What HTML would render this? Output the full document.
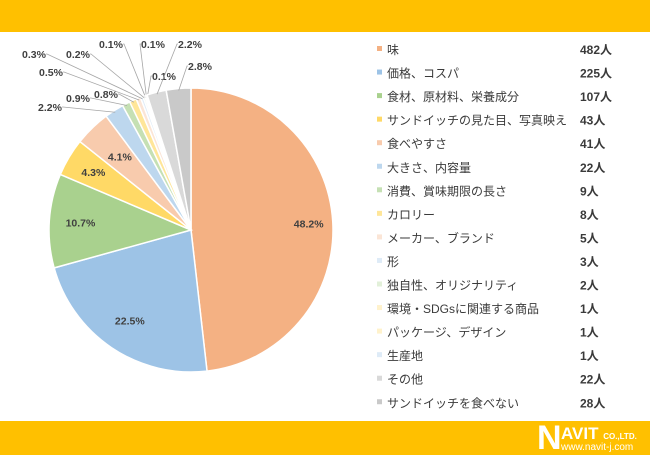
<!DOCTYPE html>
<html><head><meta charset="utf-8"><style>
body{margin:0;width:650px;height:455px;background:#fff;overflow:hidden;font-family:"Liberation Sans","Noto Sans CJK JP",sans-serif;}
#top{position:absolute;left:0;top:0;width:650px;height:32px;background:#ffc000;}
#bot{position:absolute;left:0;top:421px;width:650px;height:34px;background:#ffc000;}
svg{position:absolute;left:0;top:0;}
</style></head><body>
<div id="top"></div>
<div id="bot">
<div style="position:absolute;left:537px;top:0px;color:#fff;">
<span style="font-weight:bold;font-size:34px;line-height:34px;">N</span><span style="position:absolute;left:24px;top:3px;font-weight:bold;font-size:17px;white-space:nowrap;">AVIT <span style="font-size:8px">CO.,LTD.</span></span><span style="position:absolute;left:24px;top:21px;font-size:10px;white-space:nowrap;">www.navit-j.com</span>
</div></div>
<svg id="chart" width="650" height="455"></svg>
<script>
const categories=["味","価格、コスパ","食材、原材料、栄養成分","サンドイッチの見た目、写真映え","食べやすさ","大きさ、内容量","消費、賞味期限の長さ","カロリー","メーカー、ブランド","形","独自性、オリジナリティ","環境・SDGsに関連する商品","パッケージ、デザイン","生産地","その他","サンドイッチを食べない"];
const counts=[482,225,107,43,41,22,9,8,5,3,2,1,1,1,22,28];
const percentLabels=["48.2%","22.5%","10.7%","4.3%","4.1%","2.2%","0.9%","0.8%","0.5%","0.3%","0.2%","0.1%","0.1%","0.1%","2.2%","2.8%"];
const colors=["#f4b183","#9dc3e6","#a9d18e","#ffd966","#f8cbad","#bdd7ee","#c5e0b4","#ffe699","#fbe5d6","#deebf7","#e2f0d9","#fff2cc","#fff2cc","#deebf7","#d9d9d9","#c9c9c9"];
const outPos={5:[50,110],6:[78,101],7:[106,97],8:[51,75],9:[34,57],10:[78,57],11:[111,47],12:[153,47],13:[164,79],14:[190,47],15:[200,69]};
const inR={0:0.83,1:0.77,2:0.78,3:0.8,4:0.72};
const NS="http://www.w3.org/2000/svg";
const svg=document.getElementById('chart');
const cx=191,cy=230,R=142;
const total=counts.reduce((a,b)=>a+b,0);
function pt(a,r){return [cx+r*Math.sin(a),cy-r*Math.cos(a)];}
let a0=0;
counts.forEach((v,i)=>{
  const a1=a0+v/total*2*Math.PI;
  const p0=pt(a0,R),p1=pt(a1,R);
  const large=(a1-a0)>Math.PI?1:0;
  const path=document.createElementNS(NS,'path');
  path.setAttribute('d',`M${cx},${cy}L${p0[0]},${p0[1]}A${R},${R} 0 ${large} 1 ${p1[0]},${p1[1]}Z`);
  path.setAttribute('fill',colors[i]);path.setAttribute('stroke','#fff');path.setAttribute('stroke-width','1.5');
  
  
  svg.appendChild(path);
  const mid=(a0+a1)/2;
  const t=document.createElementNS(NS,'text');
  t.setAttribute('font-size','10.5');t.setAttribute('font-weight','bold');t.setAttribute('fill','#404040');
  t.setAttribute('text-anchor','middle');
  if(outPos[i]){
    const [lx,ly]=outPos[i];
    const e=pt(mid,R-2);
    const ln=document.createElementNS(NS,'polyline');
    const sx=lx+(lx<e[0]?13:-13);
    ln.setAttribute('points',`${e[0]},${e[1]} ${sx},${ly-3} ${lx+(lx<e[0]?12:-12)},${ly-3}`);
    ln.setAttribute('fill','none');ln.setAttribute('stroke','#a6a6a6');ln.setAttribute('stroke-width','0.8');
    
    
    svg.appendChild(ln);
    t.setAttribute('x',lx);t.setAttribute('y',ly+1);
  } else {
    const p=pt(mid,R*inR[i]);
    t.setAttribute('x',p[0]);t.setAttribute('y',p[1]+4);
  }
  t.textContent=percentLabels[i];
  
  
  svg.appendChild(t);
  a0=a1;
});
categories.forEach((c,i)=>{
  const y=50+i*23.55;
  const r=document.createElementNS(NS,'rect');
  r.setAttribute('x',377);r.setAttribute('y',y-4);r.setAttribute('width',5);r.setAttribute('height',5);r.setAttribute('fill',colors[i]);
  
  
  svg.appendChild(r);
  const t=document.createElementNS(NS,'text');
  t.setAttribute('x',387);t.setAttribute('y',y+4);t.setAttribute('font-size','12');t.setAttribute('fill','#3a3a3a');
  t.textContent=c;
  
  
  svg.appendChild(t);
  const v=document.createElementNS(NS,'text');
  v.setAttribute('x',580);v.setAttribute('y',y+4);v.setAttribute('font-size','12');v.setAttribute('font-weight','bold');v.setAttribute('fill','#3a3a3a');
  v.textContent=counts[i]+'人';
  
  
  svg.appendChild(v);
});
</script>
</body></html>
